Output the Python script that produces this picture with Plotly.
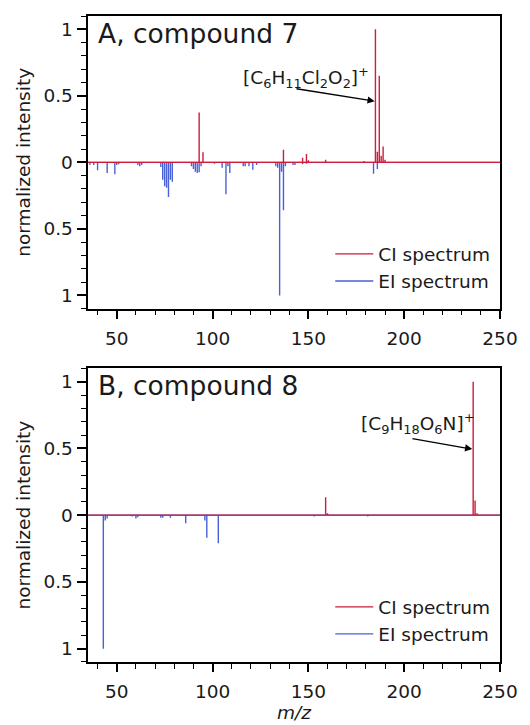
import plotly.graph_objects as go

# ---- spectra (m/z, normalized intensity) ----
# compound 7
ci_a_mz = [93, 95, 137, 147, 149, 150, 159, 179, 185, 186, 187, 188, 189, 190]
ci_a_int = [0.375, 0.075, 0.095, 0.035, 0.062, 0.015, 0.02, 0.01, 1.0, 0.08, 0.65, 0.05, 0.12, 0.02]
ei_a_mz = [36, 38, 40, 45, 49, 50, 51, 61, 62, 63, 73, 74, 75, 76, 77, 78, 79,
           89, 90, 91, 92, 93, 94, 101, 105, 107, 108, 109, 116, 117, 119, 121, 123,
           133, 134, 135, 136, 137, 138, 142, 143, 147, 149, 184, 186]
ei_a_int = [0.02, 0.02, 0.06, 0.08, 0.09, 0.02, 0.015, 0.02, 0.03, 0.02, 0.035, 0.13, 0.18, 0.19, 0.26, 0.13, 0.145,
            0.03, 0.05, 0.07, 0.08, 0.075, 0.03, 0.01, 0.04, 0.24, 0.03, 0.08, 0.03, 0.03, 0.03, 0.055, 0.02,
            0.03, 0.04, 1.0, 0.07, 0.36, 0.03, 0.02, 0.02, 0.015, 0.01, 0.085, 0.05]

# compound 8
ci_b_mz = [134, 159, 160, 236, 237, 238]
ci_b_int = [0.005, 0.135, 0.015, 1.0, 0.11, 0.015]
ei_b_mz = [43, 44, 45, 58, 60, 61, 73, 74, 78, 86, 96, 97, 103, 153, 181]
ei_b_int = [1.0, 0.04, 0.025, 0.01, 0.025, 0.015, 0.02, 0.02, 0.02, 0.06, 0.04, 0.17, 0.21, 0.01, 0.01]

mz_range = [35, 250]
y_range = [-1.1, 1.1]
y_ticks = [-1, -0.5, 0, 0.5, 1]
y_ticklabels = ["1", "0.5", "0", "0.5", "1"]

RED = "#cf1b3e"
BLUE = "#4862d6"
FONT = "DejaVu Sans"
FS = 18.5
TXT = "#1a1a1a"


def stick_path(mz, inten, sign):
    """Continuous spectrum path: baseline across the range with a spike per peak."""
    xs, ys = [mz_range[0]], [0]
    for m, v in sorted(zip(mz, inten)):
        xs += [m, m, m]
        ys += [0, sign * v, 0]
    xs.append(mz_range[1])
    ys.append(0)
    return xs, ys


fig = go.Figure()

panels = [
    ("x", "y", "legend", ci_a_mz, ci_a_int, ei_a_mz, ei_a_int),
    ("x2", "y2", "legend2", ci_b_mz, ci_b_int, ei_b_mz, ei_b_int),
]
for xa, ya, lg, cmz, cint, emz, eint in panels:
    ex, ey = stick_path(emz, eint, -1)
    cx, cy = stick_path(cmz, cint, 1)
    # EI first so the CI baseline sits on top
    fig.add_trace(go.Scatter(x=ex, y=ey, mode="lines", name="EI spectrum",
                             line=dict(color=BLUE, width=1.4), xaxis=xa, yaxis=ya,
                             legend=lg, legendgroup=lg + "ei", legendrank=2))
    fig.add_trace(go.Scatter(x=cx, y=cy, mode="lines", name="CI spectrum",
                             line=dict(color=RED, width=1.4), xaxis=xa, yaxis=ya,
                             legend=lg, legendgroup=lg + "ci", legendrank=1))

xaxis_style = dict(
    range=mz_range, tickmode="array", tickvals=[50, 100, 150, 200, 250],
    ticks="outside", ticklen=8, tickwidth=1.6, tickcolor="black",
    minor=dict(tickmode="linear", tick0=0, dtick=10, ticks="outside", ticklen=4.5,
               tickwidth=1.3, tickcolor="black"),
    showline=True, linewidth=2, linecolor="black", mirror=True,
    showgrid=False, zeroline=False, ticklabelstandoff=4,
    tickfont=dict(family=FONT, size=FS, color=TXT),
)
yaxis_style = dict(
    range=y_range, tickmode="array", tickvals=y_ticks, ticktext=y_ticklabels,
    ticks="outside", ticklen=9.5, tickwidth=1.6, tickcolor="black",
    minor=dict(tickmode="linear", tick0=0, dtick=0.1, ticks="outside", ticklen=5,
               tickwidth=1.3, tickcolor="black"),
    showline=True, linewidth=2, linecolor="black", mirror=True,
    showgrid=False, zeroline=False,
    tickfont=dict(family=FONT, size=FS, color=TXT),
    title=dict(text="normalized intensity", font=dict(family=FONT, size=FS, color=TXT),
               standoff=8),
)

legend_style = dict(
    font=dict(family=FONT, size=FS, color=TXT),
    bgcolor="rgba(0,0,0,0)", borderwidth=0, itemwidth=38,
    xanchor="left", x=0.588, yanchor="middle", tracegroupgap=4,
    traceorder="normal",
)

fig.update_layout(
    width=530, height=725,
    margin=dict(l=88, r=21, t=16, b=63),
    paper_bgcolor="white", plot_bgcolor="white",
    font=dict(family=FONT, size=FS, color=TXT),
    xaxis=dict(**xaxis_style, domain=[0, 1], anchor="y"),
    yaxis=dict(**yaxis_style, domain=[0.5469, 1], anchor="x"),
    xaxis2=dict(**xaxis_style, domain=[0, 1], anchor="y2"),
    yaxis2=dict(**yaxis_style, domain=[0, 0.4546], anchor="x2"),
    legend=dict(**legend_style, y=0.6101),
    legend2=dict(**legend_style, y=0.0637),
    showlegend=True,
)

# panel labels
for xa, ya, label in [("x", "y", "A, compound 7"), ("x2", "y2", "B, compound 8")]:
    fig.add_annotation(text=label, xref=f"{xa} domain", yref=f"{ya} domain",
                       x=0.02, y=0.94, xanchor="left", yanchor="middle", showarrow=False,
                       font=dict(family=FONT, size=26.5, color=TXT))

# molecular ion labels with arrows
ion_labels = [
    ("x", "y", "[C<sub>6</sub>H<sub>11</sub>Cl<sub>2</sub>O<sub>2</sub>]<sup>+</sup>", 149.0, 0.64,
     184.6, 0.46, 143.0, 0.555),
    ("x2", "y2", "[C<sub>9</sub>H<sub>18</sub>O<sub>6</sub>N]<sup>+</sup>", 207.0, 0.69,
     235.5, 0.495, 203.5, 0.575),
]
for xa, ya, txt, tx, ty, hx, hy, sx, sy in ion_labels:
    fig.add_annotation(text=txt, xref=xa, yref=ya, x=tx, y=ty, showarrow=False,
                       xanchor="center", yanchor="middle",
                       font=dict(family=FONT, size=FS, color=TXT))
    fig.add_annotation(text="", xref=xa, yref=ya, x=hx, y=hy, axref=xa, ayref=ya,
                       ax=sx, ay=sy, showarrow=True, arrowhead=2, arrowsize=1.1,
                       arrowwidth=1.3, arrowcolor="black")

fig.add_annotation(text="<i>m/z</i>", xref="x2 domain", yref="paper", x=0.5, y=-0.078,
                   xanchor="center", yanchor="middle", showarrow=False,
                   font=dict(family=FONT, size=FS, color=TXT))

fig.write_html("out.html")
